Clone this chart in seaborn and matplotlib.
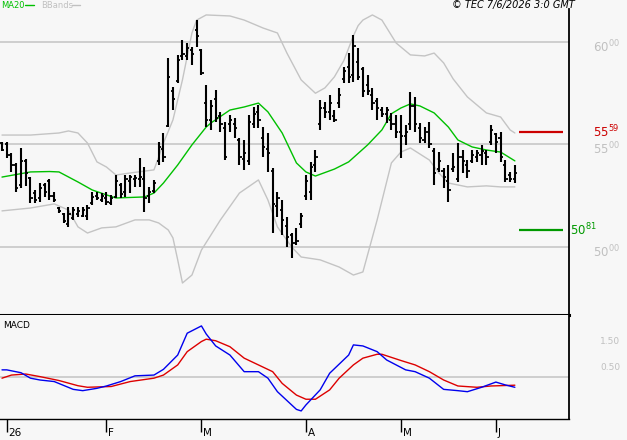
import numpy as np
import pandas as pd
import seaborn as sns
import matplotlib.pyplot as plt
from matplotlib import transforms

# ---------------- data ----------------
highs = [5512, 5512, 5459, 5410, 5483, 5429, 5341, 5278, 5312, 5312,
         5332, 5268, 5195, 5166, 5195, 5195, 5195, 5195, 5205, 5268,
         5268, 5263, 5268, 5254, 5351, 5312, 5351, 5351, 5351, 5434,
         5390, 5293, 5327, 5512, 5556, 5922, 5780, 5937, 6010, 5995,
         5976, 6107, 5966, 5790, 5717, 5766, 5659, 5610, 5644, 5629,
         5532, 5522, 5644, 5683, 5693, 5585, 5556, 5385, 5268, 5229,
         5146, 5068, 5093, 5166, 5351, 5415, 5473, 5717, 5707, 5741,
         5668, 5776, 5878, 5946, 6034, 5971, 5878, 5839, 5776, 5727,
         5683, 5683, 5654, 5644, 5644, 5595, 5756, 5732, 5605, 5585,
         5610, 5483, 5463, 5385, 5400, 5459, 5507, 5473, 5424, 5473,
         5473, 5498, 5473, 5595, 5556, 5561, 5424, 5366, 5400]
lows = [5468, 5434, 5366, 5268, 5288, 5298, 5215, 5215, 5220, 5244,
        5229, 5220, 5166, 5117, 5098, 5132, 5146, 5146, 5132, 5205,
        5229, 5220, 5205, 5205, 5239, 5239, 5244, 5263, 5293, 5293,
        5171, 5215, 5263, 5400, 5415, 5585, 5668, 5800, 5912, 5912,
        5888, 5976, 5839, 5585, 5571, 5610, 5561, 5424, 5561, 5532,
        5400, 5376, 5400, 5580, 5580, 5439, 5366, 5068, 5146, 5059,
        5000, 4946, 5010, 5093, 5229, 5229, 5366, 5571, 5629, 5620,
        5610, 5678, 5800, 5800, 5805, 5815, 5732, 5741, 5668, 5620,
        5634, 5605, 5571, 5532, 5434, 5498, 5571, 5561, 5507, 5507,
        5483, 5302, 5366, 5288, 5220, 5366, 5317, 5361, 5337, 5410,
        5415, 5400, 5400, 5498, 5459, 5415, 5317, 5317, 5312]
opens = [5505, 5500, 5450, 5400, 5300, 5420, 5335, 5265, 5240, 5300,
         5320, 5250, 5190, 5160, 5110, 5140, 5160, 5150, 5150, 5215,
         5250, 5230, 5240, 5215, 5245, 5300, 5270, 5320, 5330, 5330,
         5330, 5250, 5275, 5420, 5480, 5590, 5760, 5810, 5930, 5930,
         5960, 6060, 5960, 5700, 5620, 5720, 5640, 5580, 5600, 5600,
         5520, 5430, 5420, 5600, 5660, 5530, 5480, 5370, 5200, 5180,
         5100, 5060, 5020, 5110, 5250, 5270, 5400, 5600, 5680, 5660,
         5640, 5700, 5820, 5880, 5840, 5900, 5870, 5790, 5740, 5710,
         5670, 5650, 5620, 5600, 5560, 5540, 5600, 5690, 5580, 5520,
         5560, 5470, 5380, 5370, 5320, 5380, 5330, 5440, 5400, 5420,
         5440, 5450, 5460, 5510, 5550, 5530, 5400, 5350, 5330]
closes = [5475, 5450, 5400, 5290, 5420, 5360, 5240, 5230, 5290, 5270,
          5250, 5230, 5175, 5125, 5160, 5180, 5175, 5180, 5190, 5245,
          5240, 5250, 5220, 5240, 5320, 5260, 5330, 5340, 5335, 5340,
          5240, 5270, 5310, 5490, 5440, 5830, 5720, 5910, 5940, 5970,
          5940, 6030, 5850, 5620, 5690, 5630, 5600, 5440, 5620, 5580,
          5440, 5460, 5610, 5650, 5620, 5490, 5460, 5210, 5240, 5130,
          5050, 5020, 5030, 5150, 5320, 5390, 5440, 5680, 5660, 5700,
          5620, 5740, 5860, 5830, 5980, 5830, 5760, 5760, 5700, 5680,
          5650, 5670, 5600, 5560, 5540, 5560, 5690, 5600, 5530, 5560,
          5500, 5360, 5420, 5340, 5280, 5390, 5440, 5420, 5370, 5450,
          5460, 5470, 5440, 5570, 5510, 5440, 5330, 5330, 5360]

holidays = ["2026-01-01", "2026-04-03", "2026-04-06", "2026-05-01"]
dates = pd.bdate_range("2025-12-31", "2026-06-05")
dates = dates[~dates.isin(pd.to_datetime(holidays))]

ma_idx = [0, 6, 10, 12, 16, 19, 22, 24, 30, 32, 34, 37, 40, 43, 44, 48, 51, 54,
          56, 59, 62, 64, 66, 70, 73, 77, 80, 82, 84, 86, 88, 91, 94, 96, 99,
          102, 105, 108]
ma_vals = [5341, 5366, 5368, 5366, 5317, 5278, 5254, 5239, 5244, 5263, 5312,
           5400, 5498, 5585, 5605, 5668, 5683, 5702, 5659, 5556, 5410, 5366,
           5346, 5380, 5415, 5498, 5571, 5650, 5678, 5698, 5688, 5654, 5585,
           5522, 5488, 5473, 5463, 5420]

up_idx = [0, 6, 12, 14, 16, 18, 20, 22, 24, 27, 32, 33, 34, 36, 38, 40, 41, 43,
          48, 51, 55, 58, 60, 63, 66, 68, 70, 72, 74, 75, 76, 78, 80, 83, 86,
          89, 91, 93, 95, 98, 102, 105, 107, 108]
up_vals = [5546, 5546, 5556, 5566, 5556, 5507, 5415, 5390, 5351, 5361, 5376,
           5439, 5507, 5620, 5815, 6044, 6107, 6132, 6127, 6107, 6068, 6044,
           5946, 5815, 5750, 5776, 5830, 5910, 6030, 6080, 6107, 6132, 6107,
           5995, 5937, 5932, 5946, 5898, 5820, 5732, 5654, 5634, 5571, 5556]

lo_idx = [0, 6, 11, 14, 16, 18, 21, 24, 28, 31, 33, 35, 36, 37, 38, 40, 42, 46,
          50, 54, 56, 58, 61, 63, 67, 71, 74, 76, 79, 82, 84, 86, 90, 92, 94,
          98, 102, 105, 108]
lo_vals = [5176, 5190, 5210, 5180, 5098, 5068, 5093, 5098, 5132, 5132, 5117,
           5083, 5044, 4937, 4824, 4863, 4985, 5132, 5263, 5327, 5229, 5098,
           5000, 4951, 4937, 4902, 4863, 4878, 5132, 5410, 5463, 5483, 5424,
           5361, 5312, 5293, 5298, 5293, 5293]

macd_idx = [0, 1, 4, 6, 8, 11, 15, 17, 20, 22, 25, 28, 32, 34, 37, 39, 42, 43,
            45, 48, 51, 54, 56, 58, 62, 63, 64, 67, 69, 73, 74, 76, 79, 81, 85,
            87, 90, 93, 96, 98, 101, 104, 106, 108]
macd_vals = [0.26, 0.26, 0.15, -0.06, -0.13, -0.19, -0.49, -0.54, -0.45, -0.36,
             -0.19, 0.03, 0.06, 0.28, 0.83, 1.67, 1.95, 1.64, 1.18, 0.83, 0.19,
             0.19, -0.06, -0.58, -1.26, -1.32, -1.09, -0.51, 0.13, 0.83, 1.22,
             1.18, 0.96, 0.64, 0.26, 0.19, -0.06, -0.49, -0.54, -0.58, -0.41,
             -0.21, -0.32, -0.41]
sig_idx = [0, 2, 5, 8, 12, 16, 18, 23, 27, 32, 34, 37, 39, 42, 43, 45, 48, 51,
           54, 57, 59, 62, 64, 66, 69, 71, 74, 76, 79, 80, 84, 87, 90, 93, 96,
           100, 103, 108]
sig_vals = [-0.06, 0.06, 0.10, 0.00, -0.15, -0.35, -0.41, -0.38, -0.19, -0.06,
            0.06, 0.45, 0.96, 1.35, 1.44, 1.38, 1.15, 0.71, 0.45, 0.19, -0.26,
            -0.71, -0.87, -0.87, -0.51, -0.06, 0.45, 0.71, 0.86, 0.86, 0.62,
            0.45, 0.19, -0.13, -0.36, -0.41, -0.36, -0.33]

resistance = 5559
support = 5081
price_ticks = [5000, 5500, 6000]
macd_ticks = [0.5, 1.5]

# ---------------- style ----------------
sns.set_theme(style="white")
plt.rcParams["font.family"] = ["DejaVu Sans"]
bg = "#f7f7f7"
grid_c = "#c8c8c8"
lab_c = "#c0c0c0"

W, H = 627, 440
fig = plt.figure(figsize=(W / 100, H / 100), dpi=100, facecolor=bg)
ax = fig.add_axes([0, 1 - 315 / H, 569 / W, (315 - 9) / H], facecolor=bg)
ax2 = fig.add_axes([0, 1 - 419 / H, 569 / W, (419 - 315) / H], facecolor=bg)

k = np.arange(len(highs))
xlim = (-0.42, 119.4)

# ---------------- price panel ----------------
for p in price_ticks:
    ax.axhline(p, color=grid_c, lw=1.2, zorder=0)

sns.lineplot(x=up_idx, y=up_vals, ax=ax, color="#c4c4c4", lw=1.0)
sns.lineplot(x=lo_idx, y=lo_vals, ax=ax, color="#c4c4c4", lw=1.0)
sns.lineplot(x=ma_idx, y=ma_vals, ax=ax, color="#00c000", lw=1.0)

ax.vlines(k, lows, highs, color="black", lw=1.5)
ax.hlines(opens, k - 0.45, k, color="black", lw=1.3)
ax.hlines(closes, k, k + 0.45, color="black", lw=1.3)

ax.hlines(resistance, 108.9, 118.1, color="#cc0000", lw=1.6)
ax.hlines(support, 108.9, 118.1, color="#009900", lw=1.6)

ax.set_xlim(*xlim)
ax.set_ylim(4668, 6161)
ax.set_xticks([])
ax.set_yticks([])
for s in ["left", "top"]:
    ax.spines[s].set_visible(False)
ax.spines["bottom"].set_color("black")
ax.spines["bottom"].set_linewidth(2.2)
ax.spines["right"].set_color("black")
ax.spines["right"].set_linewidth(1.3)

def split_label(v):
    s = str(v)
    return "$\\mathregular{" + s[:2] + "^{" + s[2:] + "}}$"

ybase = transforms.blended_transform_factory(fig.transFigure, ax.transData)
ytr = transforms.offset_copy(ybase, fig=fig, y=-5, units="dots")
for p in price_ticks:
    fig.text(593 / W, p, split_label(p), transform=ytr, color=lab_c,
             fontsize=8.5, va="center", ha="left")
fig.text(593 / W, resistance, split_label(resistance), transform=ybase,
         color="#cc0000", fontsize=8.5, va="center", ha="left")
fig.text(570 / W, support, split_label(support), transform=ybase,
         color="#009900", fontsize=8.5, va="center", ha="left")

# legend and stamp
fig.text(1 / W, 1 - 5 / H, "MA20", color="#00c000", fontsize=6, va="center")
fig.lines.append(plt.Line2D([25 / W, 34 / W], [1 - 5 / H] * 2,
                            transform=fig.transFigure, color="#00c000", lw=1))
fig.text(41 / W, 1 - 5 / H, "BBands", color="#c0c0c0", fontsize=6, va="center")
fig.lines.append(plt.Line2D([72 / W, 80 / W], [1 - 5 / H] * 2,
                            transform=fig.transFigure, color="#c0c0c0", lw=1))
fig.text(575 / W, 1 - 5 / H, "\u00a9 TEC 7/6/2026 3:0 GMT", color="black",
         fontsize=7, style="italic", va="center", ha="right")

# ---------------- MACD panel ----------------
ax2.axhline(0, color=grid_c, lw=1.2, zorder=0)
sns.lineplot(x=sig_idx, y=sig_vals, ax=ax2, color="#dd0000", lw=1.0)
sns.lineplot(x=macd_idx, y=macd_vals, ax=ax2, color="#0000ee", lw=1.0)
ax2.set_xlim(*xlim)
ax2.set_ylim(-1.63, 2.37)
ax2.set_yticks([])
for s in ["left", "top"]:
    ax2.spines[s].set_visible(False)
ax2.spines["bottom"].set_color("black")
ax2.spines["bottom"].set_linewidth(1.0)
ax2.spines["right"].set_color("black")
ax2.spines["right"].set_linewidth(1.3)
ax2.text(0.005, 0.9, "MACD", transform=ax2.transAxes, fontsize=6.5,
         color="black", va="center")

mtr = transforms.blended_transform_factory(fig.transFigure, ax2.transData)
mtr = transforms.offset_copy(mtr, fig=fig, y=-4, units="dots")
for m in macd_ticks:
    fig.text(600 / W, m, f"{m:.2f}", transform=mtr, color=lab_c,
             fontsize=6.5, va="center", ha="left")

# month ticks
month_start = [i for i in range(1, len(dates)) if dates[i].month != dates[i - 1].month]
month_lab = ["26" if dates[i].month == 1 else dates[i].strftime("%b")[0]
             for i in month_start]
ax2.set_xticks(month_start)
ax2.set_xticklabels([])
ax2.tick_params(axis="x", direction="out", length=9.5, width=1.0,
                color="black", bottom=True)
xtr = transforms.blended_transform_factory(ax2.transData, fig.transFigure)
for i, lab in zip(month_start, month_lab):
    ax2.text(i + 0.35, 1 - 438 / H, lab, transform=xtr, fontsize=7.5,
             color="black", va="bottom", ha="left")

fig.savefig("out.png", dpi=100, facecolor=bg)
